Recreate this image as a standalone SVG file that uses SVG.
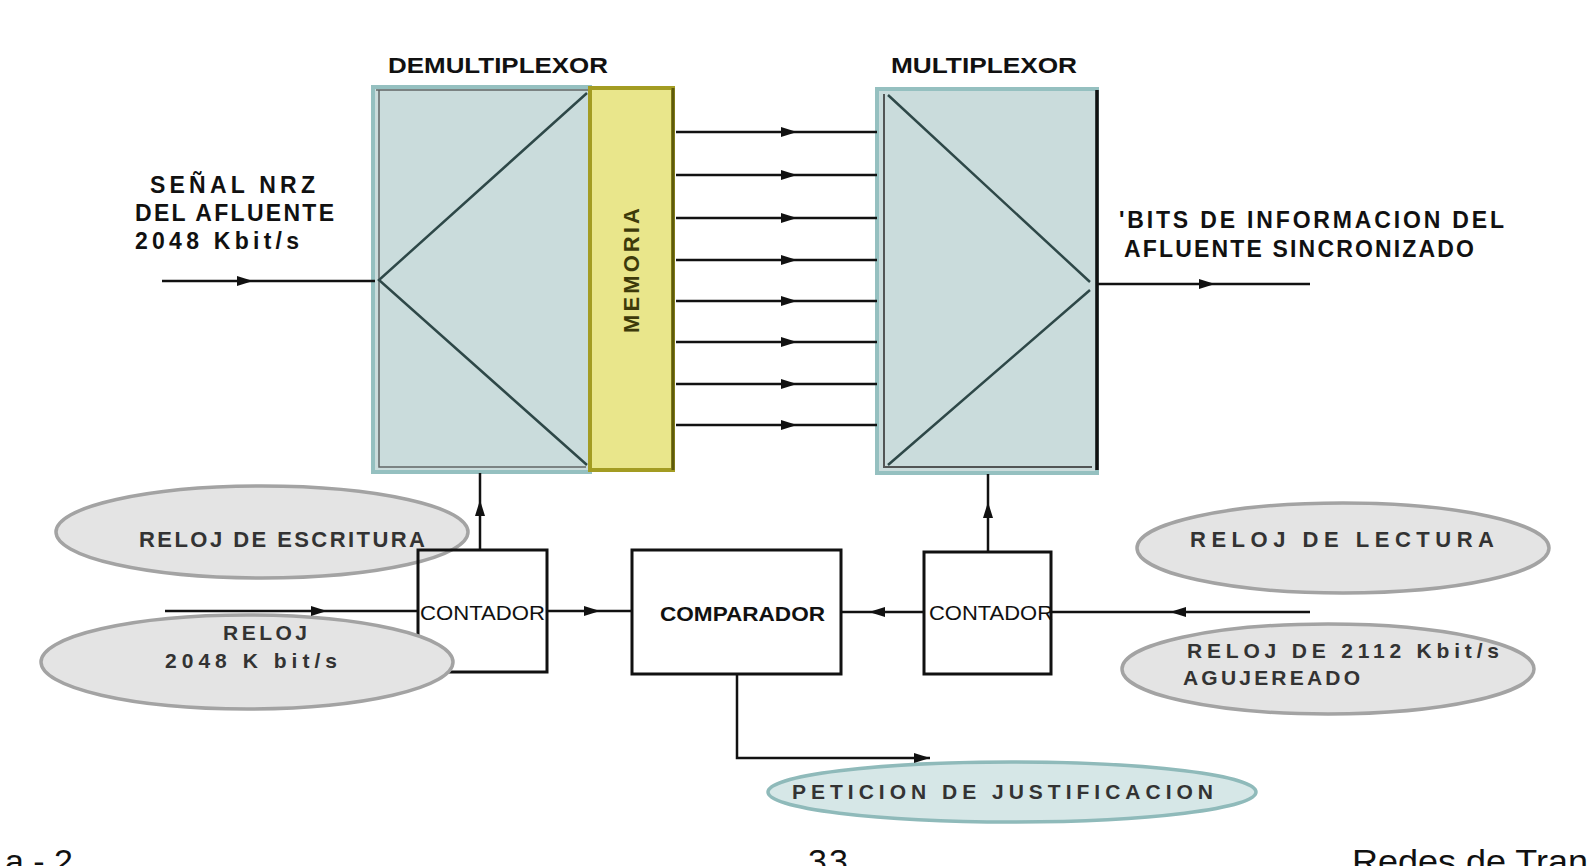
<svg xmlns="http://www.w3.org/2000/svg" width="1588" height="866" viewBox="0 0 1588 866">
<defs>
<marker id="arr" markerUnits="userSpaceOnUse" markerWidth="16" markerHeight="10" refX="16" refY="5" orient="auto">
<path d="M0,0 L16,5 L0,10 z" fill="#111"/>
</marker>
<style>
.t{font-family:"Liberation Sans",Arial,sans-serif;font-weight:bold;fill:#111;}
.n{font-family:"Liberation Sans",Arial,sans-serif;fill:#111;}
.ln{stroke:#111;stroke-width:2.5;fill:none;}
.box{fill:#fff;stroke:#111;stroke-width:3;}
.blk{fill:#cadcdc;stroke:#95c0c0;stroke-width:4;}
.tri{stroke:#2e4848;stroke-width:2.5;fill:none;}
.ell{fill:#e4e4e4;stroke:#a3a3a3;stroke-width:3.5;}
.ellb{fill:#d6e7e7;stroke:#8fbaba;stroke-width:3.5;}
.foot{font-family:"Liberation Sans",Arial,sans-serif;fill:#111;font-size:34px;}
</style>
</defs>
<rect width="1588" height="866" fill="#fff"/>

<g id="demux">
<text class="t" x="388" y="73" font-size="22" textLength="220" lengthAdjust="spacingAndGlyphs">DEMULTIPLEXOR</text>
<rect class="blk" x="373" y="87" width="217" height="385"/>
<path d="M376,90 H590 M379,90 V467 H586" stroke="#333" stroke-width="1.5" fill="none" opacity="0.7"/>
<path class="tri" d="M587,93 L379,280 L587,465"/>
</g>

<g id="memoria">
<rect x="590" y="88" width="83" height="382" fill="#e9e68b" stroke="#a39c22" stroke-width="4"/>
<line x1="673" y1="88" x2="673" y2="470" stroke="#5e5a0c" stroke-width="3"/>
<text class="t" x="0" y="0" font-size="22" textLength="125" lengthAdjust="spacing" transform="translate(639,333) rotate(-90)" style="fill:#3d3a0a">MEMORIA</text>
</g>

<g id="mux">
<text class="t" x="891" y="73" font-size="22" textLength="186" lengthAdjust="spacingAndGlyphs">MULTIPLEXOR</text>
<rect class="blk" x="877" y="89" width="220" height="384"/>
<path d="M884,94 V467 H1092" stroke="#333" stroke-width="2" fill="none" opacity="0.8"/>
<line x1="1097" y1="90" x2="1097" y2="470" stroke="#111" stroke-width="3.5"/>
<path class="tri" d="M888,95 L1090,282 M1090,290 L888,465"/>
</g>

<g id="label-input">
<text class="t" x="150" y="193" font-size="23" textLength="165" lengthAdjust="spacing">SEÑAL  NRZ</text>
<text class="t" x="135" y="221" font-size="23" textLength="199" lengthAdjust="spacing">DEL  AFLUENTE</text>
<text class="t" x="135" y="249" font-size="23" textLength="164" lengthAdjust="spacing">2048  Kbit/s</text>
</g>

<g id="label-output">
<text class="t" x="1119" y="228" font-size="23" textLength="385" lengthAdjust="spacing">'BITS  DE   INFORMACION  DEL</text>
<text class="t" x="1124" y="257" font-size="23" textLength="350" lengthAdjust="spacing">AFLUENTE  SINCRONIZADO</text>
</g>

<g id="reloj-escritura">
<ellipse class="ell" cx="262" cy="532" rx="206" ry="46"/>
<text class="n" x="139" y="547" font-size="22" font-weight="bold" textLength="286" lengthAdjust="spacing" style="fill:#333">RELOJ  DE  ESCRITURA</text>
</g>

<g id="contador-1">
<rect class="box" x="418" y="550" width="129" height="122" style="fill:none"/>
<text class="n" x="420" y="620" font-size="21" textLength="125" lengthAdjust="spacingAndGlyphs">CONTADOR</text>
</g>

<g id="reloj-2048">
<ellipse class="ell" cx="247" cy="662" rx="206" ry="47"/>
<text class="n" x="223" y="640" font-size="21" font-weight="bold" textLength="84" lengthAdjust="spacing" style="fill:#333">RELOJ</text>
<text class="n" x="165" y="668" font-size="21" font-weight="bold" textLength="172" lengthAdjust="spacing" style="fill:#333">2048  K bit/s</text>
</g>

<g id="comparador">
<rect class="box" x="632" y="550" width="209" height="124"/>
<text class="t" x="660" y="621" font-size="21" textLength="165" lengthAdjust="spacingAndGlyphs">COMPARADOR</text>
</g>

<g id="contador-2">
<rect class="box" x="924" y="552" width="127" height="122"/>
<text class="n" x="929" y="620" font-size="21" textLength="124" lengthAdjust="spacingAndGlyphs">CONTADOR</text>
</g>

<g id="reloj-lectura">
<ellipse class="ell" cx="1343" cy="548" rx="206" ry="45"/>
<text class="n" x="1190" y="547" font-size="22" font-weight="bold" textLength="304" lengthAdjust="spacing" style="fill:#333">RELOJ   DE   LECTURA</text>
</g>

<g id="reloj-2112">
<ellipse class="ell" cx="1328" cy="669" rx="206" ry="45"/>
<text class="n" x="1187" y="658" font-size="21" font-weight="bold" textLength="312" lengthAdjust="spacing" style="fill:#333">RELOJ  DE  2112  Kbit/s</text>
<text class="n" x="1183" y="685" font-size="21" font-weight="bold" textLength="177" lengthAdjust="spacing" style="fill:#333">AGUJEREADO</text>
</g>

<g id="peticion">
<ellipse class="ellb" cx="1012" cy="792" rx="244" ry="30"/>
<text class="n" x="792" y="799" font-size="21" font-weight="bold" textLength="421" lengthAdjust="spacing" style="fill:#333">PETICION   DE   JUSTIFICACION</text>
</g>

<g id="connectors">
<path class="ln" d="M162,281 H253" marker-end="url(#arr)"/>
<path class="ln" d="M253,281 H375"/>
<path class="ln" d="M676,132 H797" marker-end="url(#arr)"/><path class="ln" d="M797,132 H877"/>
<path class="ln" d="M676,175 H797" marker-end="url(#arr)"/><path class="ln" d="M797,175 H877"/>
<path class="ln" d="M676,218 H797" marker-end="url(#arr)"/><path class="ln" d="M797,218 H877"/>
<path class="ln" d="M676,260 H797" marker-end="url(#arr)"/><path class="ln" d="M797,260 H877"/>
<path class="ln" d="M676,301 H797" marker-end="url(#arr)"/><path class="ln" d="M797,301 H877"/>
<path class="ln" d="M676,342 H797" marker-end="url(#arr)"/><path class="ln" d="M797,342 H877"/>
<path class="ln" d="M676,384 H797" marker-end="url(#arr)"/><path class="ln" d="M797,384 H877"/>
<path class="ln" d="M676,425 H797" marker-end="url(#arr)"/><path class="ln" d="M797,425 H877"/>
<path class="ln" d="M1097,284 H1215" marker-end="url(#arr)"/>
<path class="ln" d="M1215,284 H1310"/>
<path class="ln" d="M480,550 V500" marker-end="url(#arr)"/>
<path class="ln" d="M480,500 V473"/>
<path class="ln" d="M165,611 H327" marker-end="url(#arr)"/>
<path class="ln" d="M327,611 H418"/>
<path class="ln" d="M547,611 H600" marker-end="url(#arr)"/>
<path class="ln" d="M600,611 H632"/>
<path class="ln" d="M924,612 H869" marker-end="url(#arr)"/>
<path class="ln" d="M869,612 H841"/>
<path class="ln" d="M988,552 V502" marker-end="url(#arr)"/>
<path class="ln" d="M988,502 V474"/>
<path class="ln" d="M1310,612 H1170" marker-end="url(#arr)"/>
<path class="ln" d="M1170,612 H1051"/>
<path class="ln" d="M737,674 V758 H930" marker-end="url(#arr)"/>
</g>

<g id="footer">
<text class="foot" x="73" y="873" text-anchor="end">a - 2</text>
<text class="foot" x="808" y="873" textLength="40">33</text>
<text class="foot" x="1352" y="873" textLength="236" lengthAdjust="spacingAndGlyphs">Redes de Tran</text>
</g>
</svg>
